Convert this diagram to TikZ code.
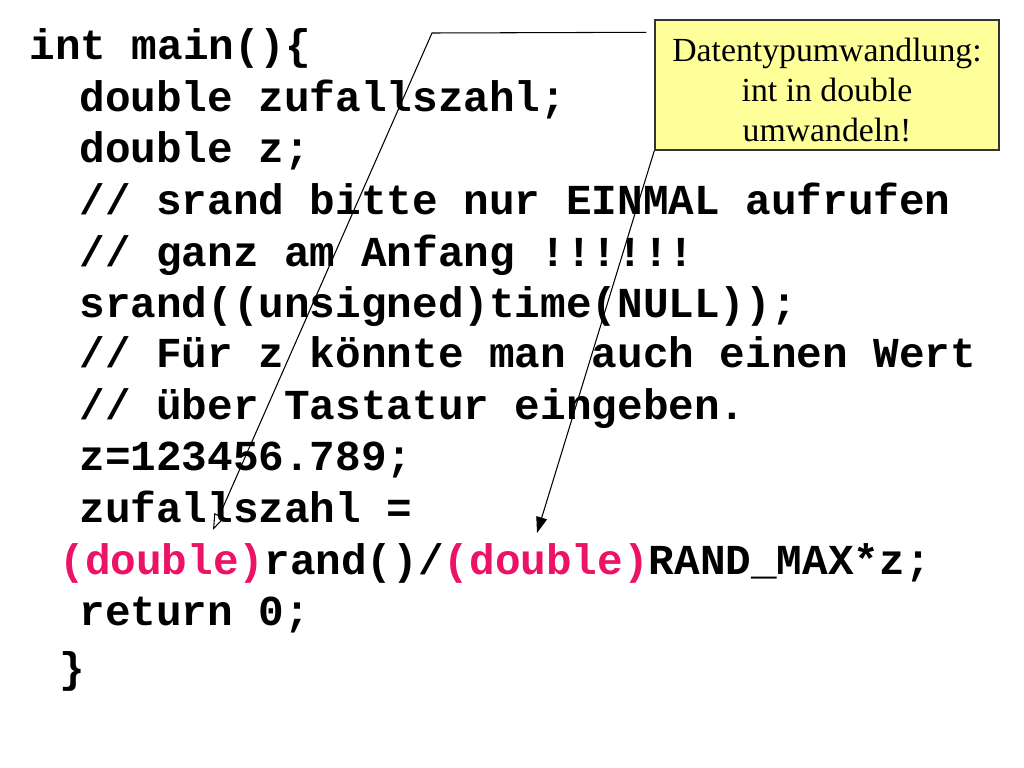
\documentclass[tikz,border=0pt]{standalone}
\usepackage{fontspec}
\setmainfont{Liberation Serif}
\newfontfamily\codefont{Liberation Mono}
\usetikzlibrary{arrows.meta}
\definecolor{castpink}{RGB}{236,18,102}
\definecolor{notefill}{RGB}{255,255,153}

\begin{document}
\begin{tikzpicture}[thick,
    code/.style={anchor=base west,inner sep=0pt,font=\codefont\bfseries\fontsize{12.15}{14}\selectfont},
    note/.style={draw=black!80,line width=0.4pt,fill=notefill,align=center,minimum width=3.44cm,minimum height=1.3cm,inner sep=1pt,font=\fontsize{9.6}{11.4}\selectfont},
    pointer/.style={line width=0.3pt,shorten >=0pt}]

            \useasboundingbox (0,0) rectangle (10.24,-7.68);

            \node[code] (l1) at (0.28,-0.60) {int main()\{};
            \node[code] (l2) at (0.78,-1.12) {double zufallszahl;};
            \node[code] (l3) at (0.78,-1.63) {double z;};
            \node[code] (l4) at (0.78,-2.14) {// srand bitte nur EINMAL aufrufen};
            \node[code] (l5) at (0.78,-2.66) {// ganz am Anfang !!!!!!};
            \node[code] (l6) at (0.78,-3.17) {srand((unsigned)time(NULL));};
            \node[code] (l7) at (0.78,-3.67) {// Für z könnte man auch einen Wert};
            \node[code] (l8) at (0.78,-4.19) {// über Tastatur eingeben.};
            \node[code] (l9) at (0.78,-4.70) {z=123456.789;};
            \node[code] (l10) at (0.78,-5.22) {zufallszahl =};
            \node[code] (l11) at (0.58,-5.74) {{\color{castpink}(double)}rand()/{\color{castpink}(double)}RAND\_MAX*z;};
            \node[code] (l12) at (0.78,-6.25) {return 0;};
            \node[code] (l13) at (0.58,-6.82) {\}};

            \node[note] (box) at (8.27,-0.85) {\rule{0pt}{9.3pt}Datentypumwandlung:\\int in double\\umwandeln!};

            \coordinate (k1) at (4.32,-0.33);
            \coordinate (c1) at (2.13,-5.30);
            \coordinate (c2) at (5.37,-5.33);

            \draw[pointer,-{Triangle[open,length=1.6mm,width=1.1mm]}] ([shift={(-0.08,-0.13)}]box.north west) -- (k1) -- (c1);
            \draw[pointer,-{Triangle[length=1.6mm,width=1.1mm]}] (box.south west) -- (c2);

            ;
        \end{tikzpicture}
\end{document}
